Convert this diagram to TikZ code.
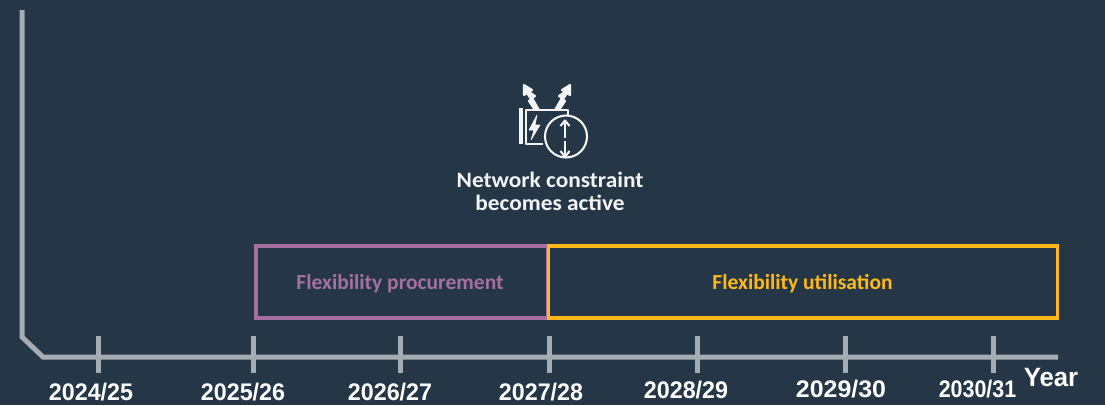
\documentclass[tikz,border=0pt]{standalone}
\usepackage{fontspec}
\setmainfont{Liberation Sans}
\newfontfamily\labfont{Carlito}
\definecolor{bgc}{HTML}{253746}
\definecolor{axisc}{HTML}{A5ACB2}
\definecolor{purp}{HTML}{A5709F}
\definecolor{gold}{HTML}{FFB81C}
\definecolor{iconc}{HTML}{F2F4F5}
\tikzset{
  axisline/.style={draw=axisc,line width=5pt},
  tickmark/.style={draw=axisc,line width=5pt},
  yearlab/.style={text=white,font=\fontsize{24}{24}\selectfont\bfseries,inner sep=0pt,anchor=center,xscale=0.97},
  phase/.style={line width=3.6pt,minimum height=72pt,inner sep=0pt},
  phasetext/.style={inner sep=0pt,font=\labfont\fontsize{21.5}{21.5}\selectfont\bfseries},
  iconline/.style={draw=iconc,line width=2.1pt,line join=round},
}
\begin{document}
\begin{tikzpicture}[x=1pt,y=-1pt]
\path[use as bounding box,fill=bgc] (0,0) rectangle (1105,405);
% axes
\coordinate (top) at (22,10);
\coordinate (k1) at (22,337);
\coordinate (k2) at (43,357);
\coordinate (end) at (1058,357);
\draw[axisline] (top) -- (k1) -- (k2) -- (end);
\foreach \x/\n in {98/a,253/b,400/c,549/d,697/e,845/f,993/g}{
  \coordinate (t\n u) at (\x,336);
  \coordinate (t\n d) at (\x,373);
  \draw[tickmark] (t\n u) -- (t\n d);
}
% year labels
\node[yearlab] (y1) at (91,392.5) {2024/25};
\node[yearlab] (y2) at (243,392.5) {2025/26};
\node[yearlab] (y3) at (390,392.5) {2026/27};
\node[yearlab] (y4) at (541,392.5) {2027/28};
\node[yearlab] (y5) at (686,390.5) {2028/29};
\node[yearlab,xscale=1.07] (y6) at (841,389.5) {2029/30};
\node[yearlab,xscale=0.92] (y7) at (977.5,389.5) {2030/31};
\node[yearlab,font=\fontsize{26.5}{26.5}\selectfont\bfseries] (y8) at (1051,378) {Year};
% phase boxes
\node[phase,draw=purp,minimum width=292pt] (proc) at (402,282) {};
\node[phase,draw=gold,minimum width=509pt] (util) at (803,282) {};
\node[phasetext,text=purp] (proclab) at (400,284) {Flexibility procurement};
\node[phasetext,text=gold] (utillab) at (802.5,284) {Flexibility utilisation};
% caption
\node[text=iconc,align=center,inner sep=0pt,xscale=1.06,font=\labfont\fontsize{22}{23.5}\selectfont\bfseries] (cap) at (550,191.5) {Network constraint\\becomes active};
% icon
\draw[iconline,line width=3.2pt] (521,108) -- (521,144);
\draw[iconline] (543,144) -- (526,144) -- (526,110) -- (568,110) -- (568,116);
\draw[iconline,fill=iconc] (539,110) -- (532,98) -- (535,96) -- (529,92) -- (532,90) -- (524,85) -- (524,95) -- (527,93) -- (531,99) -- (529,101) -- (535,110);
\draw[iconline,fill=iconc] (555,110) -- (562,98) -- (559,96) -- (565,92) -- (562,90) -- (570,85) -- (570,95) -- (567,93) -- (563,99) -- (565,101) -- (559,110);
\draw[iconline,fill=iconc,line width=0.6pt] (537,115) -- (529,130) -- (534,130) -- (531,140) -- (540,125) -- (535,125) -- cycle;
\draw[iconline] (566,136.5) circle (21);
\draw[iconline] (560.5,126) -- (565,120.5) -- (569.5,126);
\draw[iconline] (565,120.5) -- (565,138);
\draw[iconline] (565,141) -- (565,157);
\draw[iconline] (560.5,151) -- (565,157) -- (569.5,151);
\end{tikzpicture}
\end{document}
